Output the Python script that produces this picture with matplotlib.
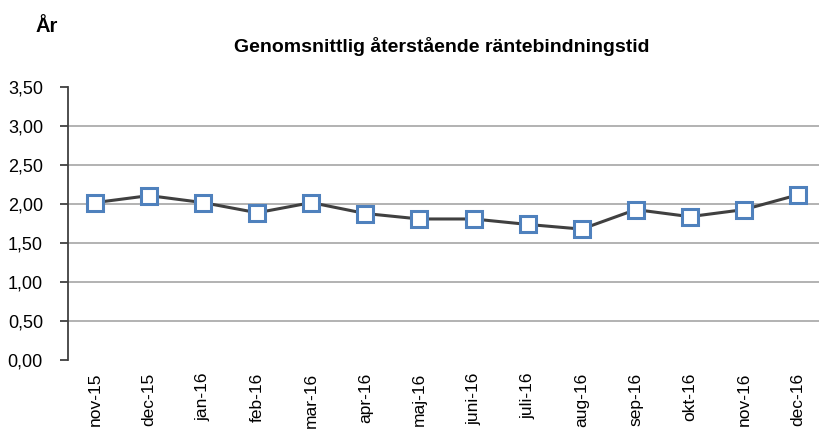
from matplotlib import pyplot as plt
from matplotlib import font_manager
import numpy as np

# Monthly values
months = ['nov-15', 'dec-15', 'jan-16', 'feb-16', 'mar-16', 'apr-16', 'maj-16',
          'juni-16', 'juli-16', 'aug-16', 'sep-16', 'okt-16', 'nov-16', 'dec-16']
years = [2.02, 2.11, 2.02, 1.89, 2.02, 1.88, 1.81,
         1.81, 1.74, 1.68, 1.93, 1.84, 1.93, 2.12]
yticks = [0.0, 0.5, 1.0, 1.5, 2.0, 2.5, 3.0, 3.5]

# Arial Narrow look-alike if one is installed
names = set(f.name for f in font_manager.fontManager.ttflist)
fam = 'Liberation Sans'
for cand in ['Liberation Sans Narrow', 'Arial Narrow', 'DejaVu Sans Condensed']:
    if cand in names:
        fam = cand
        break
plt.rcParams['font.family'] = [fam, 'DejaVu Sans']

fig = plt.figure(figsize=(8.19, 4.29), dpi=100)
ax = fig.add_axes([68/819., 1 - 360/429., 757/819., 272.7/429.])

x = np.arange(len(months))
ax.plot(x, years, '-', color='#404040', lw=2.2, zorder=3)
ax.plot(x, years, 's', markersize=11.5, markerfacecolor='white',
        markeredgecolor='#4F81BD', markeredgewidth=2.2, zorder=4)

ax.set_xlim(-0.5, len(months) - 0.5)
ax.set_ylim(0, 3.5)
ax.set_yticks(yticks)
ax.set_yticklabels([('%.2f' % v).replace('.', ',') for v in yticks], fontsize=13)
ax.yaxis.grid(True, color='#A6A6A6', lw=1.2)
ax.set_axisbelow(True)
gl = ax.get_ygridlines()
gl[0].set_visible(False)
gl[-1].set_visible(False)

ax.set_xticks(x)
ax.set_xticklabels(months, rotation=90, fontsize=12.5)

for s in ['top', 'right', 'bottom']:
    ax.spines[s].set_visible(False)
ax.spines['left'].set_color('#404040')
ax.spines['left'].set_linewidth(1.3)
ax.tick_params(axis='y', length=6, width=1.3, color='#404040', pad=12)
ax.tick_params(axis='x', length=0, pad=9)

fig.text(442/819., 1 - 47/429., 'Genomsnittlig återstående räntebindningstid',
         ha='center', va='center', fontsize=14, weight='bold')
fig.text(36/819., 1 - 27/429., 'År', ha='left', va='center', fontsize=14.5, weight='bold')

plt.savefig('out.png', dpi=100)
